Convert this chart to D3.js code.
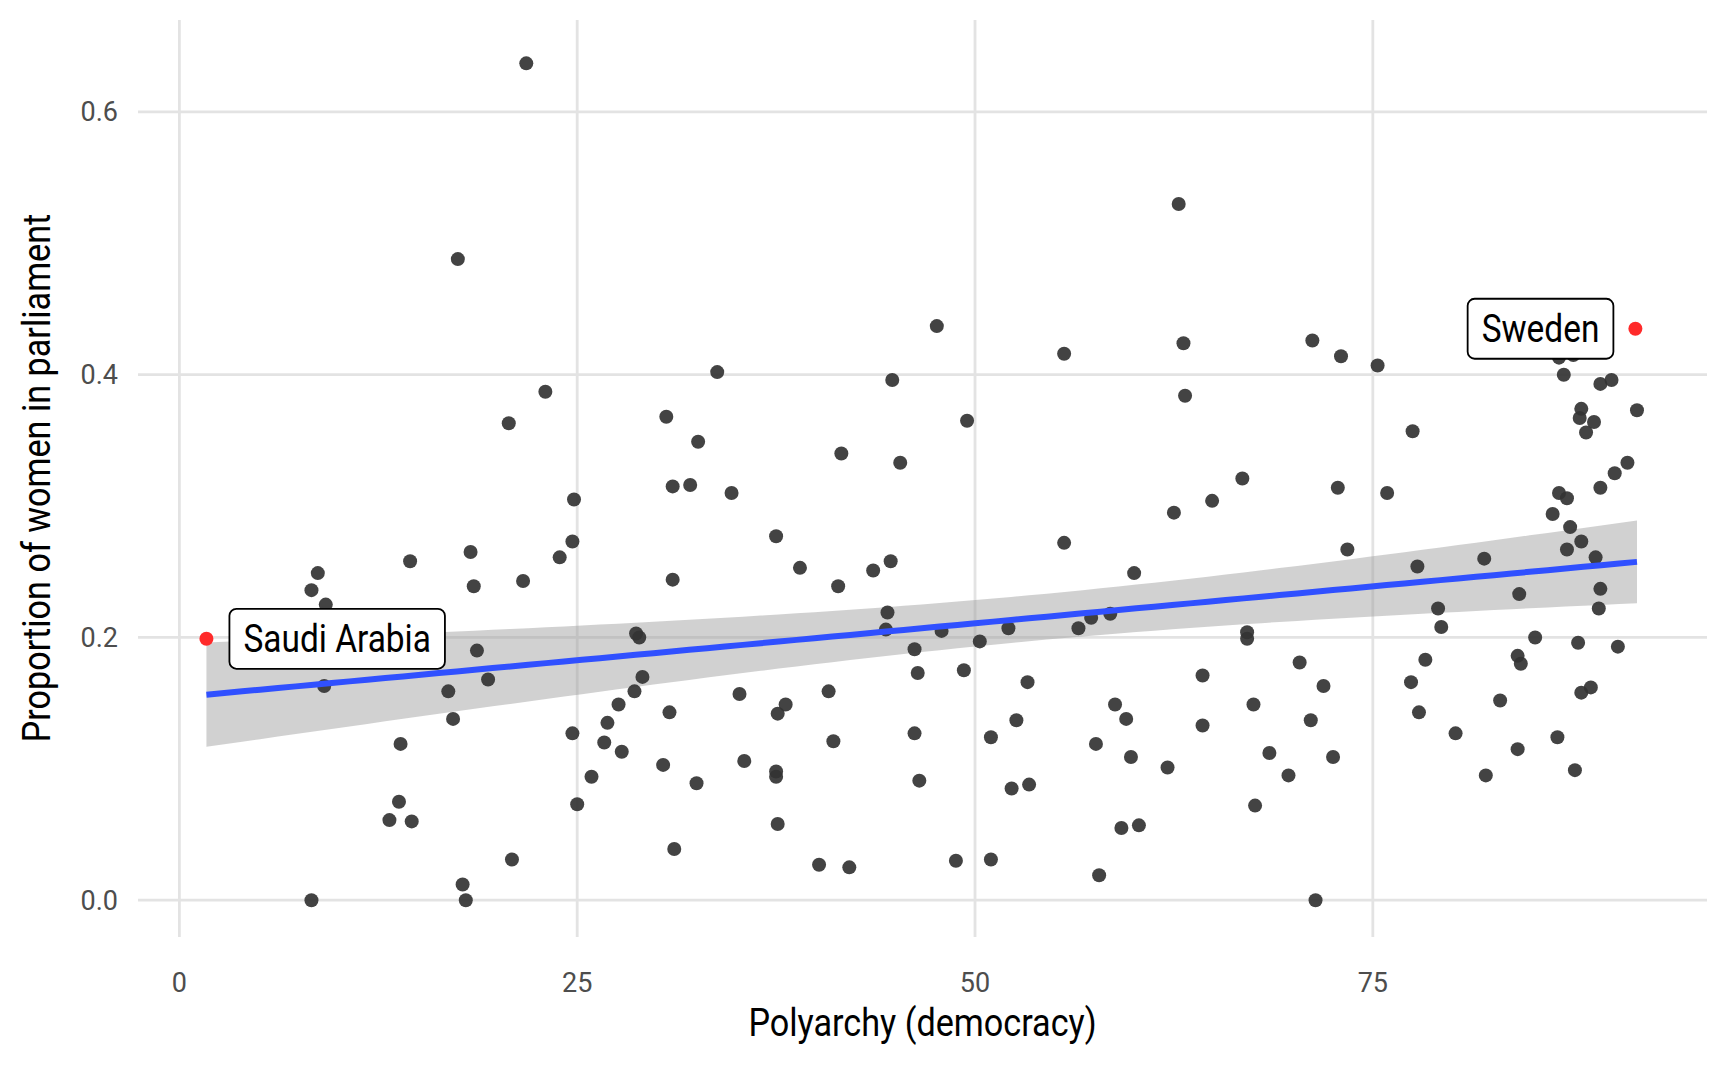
<!DOCTYPE html>
<html><head><meta charset="utf-8">
<script src="https://cdn.jsdelivr.net/npm/d3@7"></script>
<style>body{margin:0;background:#fff}svg{font-family:"Liberation Sans Narrow","Roboto",sans-serif}</style>
</head><body><svg id="chart" width="1728" height="1067"></svg>
<script>
// polyarchy (x) and share of women in parliament (y)
var polyarchy = [8.3,8.7,9.2,9.1,8.3,13.2,13.8,13.9,14.6,14.5,16.9,17.2,17.5,17.8,18.0,18.3,18.5,18.7,19.4,20.7,20.9,21.6,21.8,23.0,23.9,24.7,24.8,24.7,25.0,25.9,26.7,26.9,27.6,27.8,28.6,28.7,28.9,29.1,30.4,30.6,30.8,31.0,31.0,31.1,32.1,32.5,32.6,33.8,34.7,35.2,35.5,37.5,37.5,37.5,37.6,37.6,38.1,39.0,40.2,40.8,41.1,41.4,41.6,42.1,43.6,44.4,44.5,44.7,44.8,45.3,46.2,46.2,46.4,46.5,47.6,47.9,48.8,49.3,49.5,50.3,51.0,51.0,52.1,52.3,52.6,53.3,53.4,55.6,55.6,56.5,57.3,57.6,57.8,58.5,58.8,59.2,59.5,59.8,60.0,60.3,62.1,62.5,62.8,63.1,63.2,64.3,64.3,64.9,66.8,67.1,67.1,67.5,67.6,68.5,69.7,70.4,71.1,71.2,71.4,71.9,72.5,72.8,73.0,73.4,75.3,75.9,77.4,77.5,77.8,77.9,78.3,79.1,79.3,80.2,82.0,82.1,83.0,84.1,84.1,84.2,84.3,85.2,86.3,86.6,86.7,86.7,87.0,87.2,87.2,87.4,87.6,87.7,87.9,88.0,88.1,88.1,88.1,88.4,88.7,88.9,89.0,89.2,89.3,89.3,89.3,90.0,90.2,90.4,91.0,91.6];
var women = [0.236,0.249,0.225,0.163,0.0,0.061,0.075,0.119,0.060,0.258,0.159,0.138,0.488,0.012,0.0,0.265,0.239,0.190,0.168,0.363,0.031,0.243,0.637,0.387,0.261,0.273,0.305,0.127,0.073,0.094,0.120,0.135,0.149,0.113,0.159,0.203,0.200,0.170,0.103,0.368,0.143,0.315,0.244,0.039,0.316,0.089,0.349,0.402,0.310,0.157,0.106,0.277,0.098,0.094,0.142,0.058,0.149,0.253,0.027,0.159,0.121,0.239,0.340,0.025,0.251,0.206,0.219,0.258,0.396,0.333,0.191,0.127,0.173,0.091,0.437,0.205,0.030,0.175,0.365,0.197,0.124,0.031,0.207,0.085,0.137,0.166,0.088,0.272,0.416,0.207,0.215,0.119,0.019,0.218,0.149,0.055,0.138,0.109,0.249,0.057,0.101,0.295,0.530,0.424,0.384,0.171,0.133,0.304,0.321,0.199,0.204,0.149,0.072,0.112,0.095,0.181,0.137,0.426,0.0,0.163,0.109,0.314,0.414,0.267,0.407,0.310,0.166,0.357,0.254,0.143,0.183,0.222,0.208,0.127,0.260,0.095,0.152,0.186,0.115,0.233,0.180,0.200,0.294,0.124,0.310,0.413,0.400,0.306,0.267,0.284,0.415,0.099,0.196,0.367,0.158,0.374,0.273,0.356,0.162,0.364,0.261,0.222,0.237,0.314,0.393,0.396,0.325,0.193,0.333,0.373];
var highlight = [{name:"Saudi Arabia", x:1.7, y:0.199}, {name:"Sweden", x:91.5, y:0.435}];
var xTicks = [0,25,50,75], yTicks = [0,0.2,0.4,0.6];

var svg = d3.select("#chart");
var x = d3.scaleLinear().domain([-2.6,96]).range([138,1707]);
var y = d3.scaleLinear().domain([-0.028,0.67]).range([937,20]);

var allX = polyarchy.concat(highlight.map(function(d){return d.x;}));
var allY = women.concat(highlight.map(function(d){return d.y;}));

// grid
svg.selectAll(".gx").data(xTicks).enter().append("line")
  .attr("x1",function(d){return x(d);}).attr("x2",function(d){return x(d);})
  .attr("y1",20).attr("y2",937).attr("stroke","#e3e3e3").attr("stroke-width",2.8);
svg.selectAll(".gy").data(yTicks).enter().append("line")
  .attr("y1",function(d){return y(d);}).attr("y2",function(d){return y(d);})
  .attr("x1",138).attr("x2",1707).attr("stroke","#e3e3e3").attr("stroke-width",2.8);

// linear fit with 95% band
var n = allX.length, mx = d3.mean(allX), my = d3.mean(allY);
var sxx = d3.sum(allX,function(v){return (v-mx)*(v-mx);});
var sxy = d3.sum(allX,function(v,i){return (v-mx)*(allY[i]-my);});
var b = sxy/sxx, a = my - b*mx;
var s = Math.sqrt(d3.sum(allX,function(v,i){var r=allY[i]-a-b*v;return r*r;})/(n-2));
var xs = d3.range(81).map(function(i){return d3.min(allX)+i*(d3.max(allX)-d3.min(allX))/80;});
var band = xs.map(function(v){var se=s*Math.sqrt(1/n+(v-mx)*(v-mx)/sxx), f=a+b*v;return {x:v,f:f,lo:f-1.97*se,hi:f+1.97*se};});
svg.append("path").datum(band).attr("fill","#999").attr("fill-opacity",0.45)
  .attr("d",d3.area().x(function(d){return x(d.x);}).y0(function(d){return y(d.lo);}).y1(function(d){return y(d.hi);}));

// points
svg.selectAll(".pt").data(polyarchy).enter().append("circle")
  .attr("cx",function(d){return x(d);}).attr("cy",function(d,i){return y(women[i]);})
  .attr("r",7).attr("fill","#333").attr("fill-opacity",0.92);

svg.append("path").datum(band).attr("fill","none").attr("stroke","#3050ff").attr("stroke-width",6)
  .attr("d",d3.line().x(function(d){return x(d.x);}).y(function(d){return y(d.f);}));

svg.selectAll(".hl").data(highlight).enter().append("circle")
  .attr("cx",function(d){return x(d.x);}).attr("cy",function(d){return y(d.y);})
  .attr("r",7).attr("fill","#ff2a2a");

// labels (condensed look via horizontal squeeze)
highlight.forEach(function(d,i){
  var g = svg.append("g");
  var anchorX = i===0 ? x(d.x)+37 : x(d.x)-36;
  var t = g.append("text").attr("font-size",38).attr("fill","#000")
    .attr("transform","translate("+anchorX+",0) scale(0.88,1)")
    .attr("text-anchor", i===0 ? "start" : "end")
    .attr("y", y(d.y)).attr("dy","0.36em").text(d.name);
  var w = t.node().getBBox().width*0.88;
  var left = i===0 ? anchorX : anchorX - w;
  g.insert("rect","text").attr("x",left-14).attr("y",y(d.y)-30).attr("width",w+28).attr("height",60)
    .attr("rx",7).attr("fill","#fff").attr("stroke","#000").attr("stroke-width",1.8);
});

// axes
svg.selectAll(".xl").data(xTicks).enter().append("text")
  .attr("x",function(d){return x(d);}).attr("y",992).attr("text-anchor","middle")
  .attr("font-size",27).attr("fill","#4d4d4d").text(function(d){return d;});
svg.selectAll(".yl").data(yTicks).enter().append("text")
  .attr("x",118).attr("y",function(d){return y(d);}).attr("dy","0.35em").attr("text-anchor","end")
  .attr("font-size",27).attr("fill","#4d4d4d").text(function(d){return d3.format(".1f")(d);});
svg.append("text").attr("transform","translate("+((138+1707)/2)+",1036) scale(0.9,1)").attr("text-anchor","middle")
  .attr("font-size",38).attr("fill","#000").text("Polyarchy (democracy)");
svg.append("text").attr("transform","translate(50,478) rotate(-90) scale(0.9,1)").attr("text-anchor","middle")
  .attr("font-size",38).attr("fill","#000").text("Proportion of women in parliament");
</script></body></html>
